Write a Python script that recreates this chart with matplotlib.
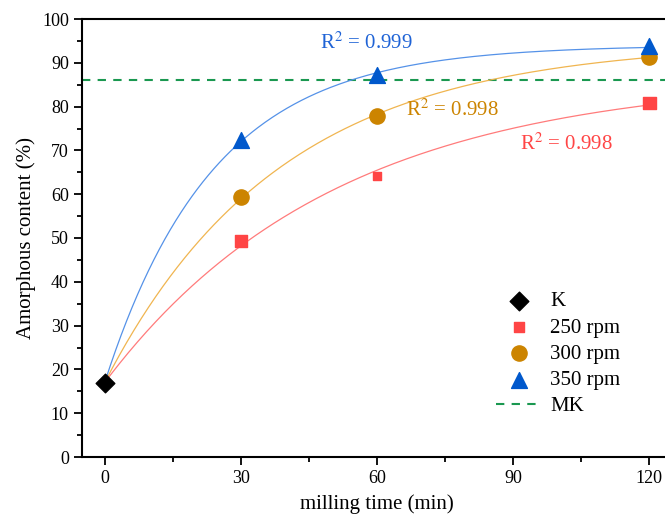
import numpy as np
import matplotlib
matplotlib.use("Agg")
import matplotlib.pyplot as plt

plt.rcParams["font.family"] = ["Liberation Serif", "DejaVu Serif"]
plt.rcParams["mathtext.fontset"] = "stix"

# data
k_time = [0]
k_val = [17.0]
time = [30, 60, 120]
rpm250 = [49.3, 64.2, 80.8]
rpm300 = [59.3, 77.8, 91.4]
rpm350 = [72.3, 87.2, 93.8]
mk_level = 86.0
r2_labels = ["0.998", "0.998", "0.999"]


def fit_saturation(t, y, y0):
    # y = A - (A - y0) * exp(-k t), grid search on k, least squares for A
    t = np.asarray(t, float)
    y = np.asarray(y, float)
    best = None
    for k in np.linspace(0.001, 0.2, 4000):
        e = np.exp(-k * t)
        g = 1 - e
        A = np.sum(g * (y - y0 * e)) / np.sum(g * g)
        err = np.sum((A * g + y0 * e - y) ** 2)
        if best is None or err < best[0]:
            best = (err, A, k)
    return best[1], best[2]


fig = plt.figure(figsize=(6.65, 5.16), dpi=100)
ax = fig.add_axes([82 / 665, 59 / 516, 590 / 665, 438 / 516])

series = [
    ("250 rpm", rpm250, "s", "#ff4545", "#ff7b7b"),
    ("300 rpm", rpm300, "o", "#cc8400", "#f0b550"),
    ("350 rpm", rpm350, "^", "#0058cc", "#5592e8"),
]
t_fine = np.linspace(0, 120, 300)
for name, vals, mk, mc, lc in series:
    A, k = fit_saturation(time, vals, k_val[0])
    ax.plot(t_fine, A - (A - k_val[0]) * np.exp(-k * t_fine), color=lc, lw=0.9, zorder=2)

ax.axhline(mk_level, color="#1a9850", ls=(0, (4, 3.5)), lw=1.5, zorder=1, label="MK")

ax.scatter(k_time, k_val, marker="D", s=90, color="black", zorder=4, label="K")
ax.scatter(time, rpm250, marker="s", s=[80, 35, 80], color="#ff4545", zorder=4, label="250 rpm")
ax.scatter(time, rpm300, marker="o", s=120, color="#cc8400", zorder=4, label="300 rpm")
ax.scatter(time, rpm350, marker="^", s=130, color="#0058cc", zorder=4, label="350 rpm")

ax.text(47.5, 94.6, r"R$^2$ = " + r2_labels[2], color="#1f63d6", fontsize=15, va="center")
ax.text(66.5, 79.3, r"R$^2$ = " + r2_labels[1], color="#cc8400", fontsize=15, va="center")
ax.text(91.5, 71.5, r"R$^2$ = " + r2_labels[0], color="#ff4545", fontsize=15, va="center")

ax.set_xlim(-5, 125)
ax.set_ylim(0, 100)
ax.set_xticks([0, 30, 60, 90, 120])
ax.set_xticks([15, 45, 75, 105], minor=True)
ax.set_yticks(np.arange(0, 101, 10))
ax.set_yticks(np.arange(5, 100, 10), minor=True)
ax.tick_params(which="both", direction="out", width=1.3, labelsize=13)
ax.tick_params(which="major", length=6)
ax.tick_params(which="minor", length=3.5)
for s in ax.spines.values():
    s.set_linewidth(1.5)

ax.set_xlabel("milling time (min)", fontsize=15, labelpad=5)
ax.set_ylabel("Amorphous content (%)", fontsize=15, labelpad=4)

handles, labels = ax.get_legend_handles_labels()
order = [labels.index(n) for n in ["K", "250 rpm", "300 rpm", "350 rpm", "MK"]]
ax.legend([handles[i] for i in order], [labels[i] for i in order],
          loc="upper left", bbox_to_anchor=(0.67, 0.42), frameon=False,
          fontsize=15, handlelength=2.2, labelspacing=0.32, handletextpad=0.4)

fig.savefig("out.png", dpi=100)
